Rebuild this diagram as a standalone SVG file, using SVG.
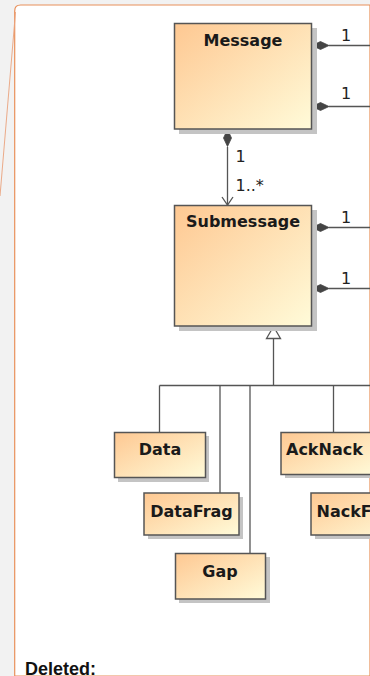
<svg xmlns="http://www.w3.org/2000/svg" width="370" height="676" viewBox="0 0 370 676">
<defs>
<linearGradient id="cls" x1="0" y1="0" x2="1" y2="1">
<stop offset="0" stop-color="#fec892"/>
<stop offset="1" stop-color="#fffbd9"/>
</linearGradient>
<style>
.shadow{fill:#c4c4c4}
.box{fill:url(#cls);stroke:#555;stroke-width:1.5}
.name{font-family:"DejaVu Sans",sans-serif;font-weight:bold;font-size:16px;fill:#1a1a1a}
.mult{font-family:"DejaVu Sans",sans-serif;font-size:16px;fill:#222}
.line{fill:none;stroke:#555;stroke-width:1.3}
.dia{fill:#444;stroke:#444;stroke-width:0.8}
</style>
</defs>
<rect x="0" y="0" width="370" height="676" fill="#f2f2f2"/>
<path d="M14.7 676 V11 Q14.7 5 20.7 5 H370 V676 Z" fill="#ffffff" stroke="#e8905a" stroke-width="1.2"/>
<line x1="15.5" y1="12" x2="0" y2="196" stroke="#eaa27c" stroke-width="0.9"/>

<g id="connectors">
<line class="line" x1="329" y1="45.5" x2="370" y2="45.5"/>
<polygon class="dia" points="312,45.5 320.5,41.5 329,45.5 320.5,49.5"/>
<line class="line" x1="329" y1="106.5" x2="370" y2="106.5"/>
<polygon class="dia" points="312,106.5 320.5,102.5 329,106.5 320.5,110.5"/>
<line class="line" x1="227.5" y1="147" x2="227.5" y2="205"/>
<polygon class="dia" points="227.5,129.5 223.5,138 227.5,146.5 231.5,138"/>
<polyline class="line" points="222,197 227.5,205 233,197"/>
<line class="line" x1="329" y1="227.5" x2="370" y2="227.5"/>
<polygon class="dia" points="312,227.5 320.5,223.5 329,227.5 320.5,231.5"/>
<line class="line" x1="329" y1="288.5" x2="370" y2="288.5"/>
<polygon class="dia" points="312,288.5 320.5,284.5 329,288.5 320.5,292.5"/>
<line class="line" x1="273.5" y1="338.5" x2="273.5" y2="385.5"/>
<polygon points="273.5,326.5 266.5,338.5 280.5,338.5" fill="#fff" stroke="#555" stroke-width="1.3"/>
<line class="line" x1="159.5" y1="385.5" x2="370" y2="385.5"/>
<line class="line" x1="159.5" y1="385.5" x2="159.5" y2="432"/>
<line class="line" x1="220" y1="385.5" x2="220" y2="493"/>
<line class="line" x1="250" y1="385.5" x2="250" y2="553"/>
<line class="line" x1="333.5" y1="385.5" x2="333.5" y2="432"/>
<text class="mult" x="341" y="41">1</text>
<text class="mult" x="341" y="99">1</text>
<text class="mult" x="235.5" y="162">1</text>
<text class="mult" x="235.5" y="191">1..*</text>
<text class="mult" x="341" y="223">1</text>
<text class="mult" x="341" y="284">1</text>
</g>

<g id="Message">
<rect class="shadow" x="179" y="28" width="138" height="106"/>
<rect class="box" x="174.5" y="23.5" width="137" height="105.5"/>
<text class="name" x="243" y="46" text-anchor="middle">Message</text>
</g>
<g id="Submessage">
<rect class="shadow" x="179" y="210" width="138" height="121"/>
<rect class="box" x="174.5" y="205.5" width="137" height="120.5"/>
<text class="name" x="243" y="227" text-anchor="middle">Submessage</text>
</g>
<g id="Data">
<rect class="shadow" x="118" y="436" width="91" height="46"/>
<rect class="box" x="114.5" y="432.5" width="91" height="45"/>
<text class="name" x="160" y="455" text-anchor="middle">Data</text>
</g>
<g id="DataFrag">
<rect class="shadow" x="148" y="497" width="95" height="42"/>
<rect class="box" x="144" y="493" width="95" height="42"/>
<text class="name" x="191.5" y="517" text-anchor="middle">DataFrag</text>
</g>
<g id="Gap">
<rect class="shadow" x="179" y="557" width="91" height="46"/>
<rect class="box" x="175.5" y="553.5" width="90" height="45.5"/>
<text class="name" x="220" y="577" text-anchor="middle">Gap</text>
</g>
<g id="AckNack">
<rect class="shadow" x="285" y="436" width="95" height="42"/>
<rect class="box" x="281" y="432.5" width="95" height="42"/>
<text class="name" x="286" y="454.5">AckNack</text>
</g>
<g id="NackFrag">
<rect class="shadow" x="315" y="497" width="95" height="42"/>
<rect class="box" x="311" y="493" width="95" height="42"/>
<text class="name" x="316.5" y="517">NackFrag</text>
</g>
<text x="25" y="675" font-family="Liberation Sans, Arial, sans-serif" font-weight="bold" font-size="18" fill="#111">Deleted:</text>
</svg>
